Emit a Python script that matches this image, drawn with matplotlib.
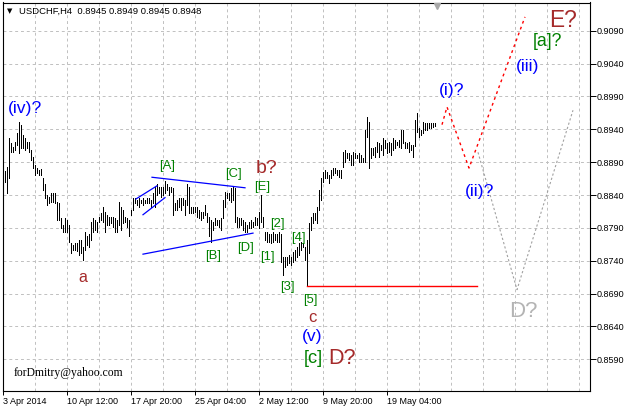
import matplotlib
matplotlib.use("Agg")
import matplotlib.pyplot as plt
import matplotlib.transforms as mtransforms
import numpy as np

# USDCHF H4 bars (high / low)
highs = [0.8877, 0.8883, 0.8927, 0.8919, 0.8913, 0.8921, 0.8935, 0.8951, 0.8947, 0.8931,
         0.8927, 0.8921, 0.8921, 0.8909, 0.8898, 0.8886, 0.8881, 0.8878, 0.8880, 0.8866,
         0.8856, 0.8840, 0.8837, 0.8843, 0.8843, 0.8843, 0.8830, 0.8828, 0.8805, 0.8795,
         0.8805, 0.8802, 0.8795, 0.8767, 0.8764, 0.8767, 0.8767, 0.8772,
         0.8772, 0.8761, 0.8783, 0.8777, 0.8780, 0.8799, 0.8805, 0.8802, 0.8799, 0.8807,
         0.8813, 0.8821, 0.8814, 0.8810, 0.8807, 0.8807, 0.8807, 0.8805, 0.8802, 0.8830,
         0.8822, 0.8817, 0.8807, 0.8805, 0.8802, 0.8817, 0.8836, 0.8836, 0.8833, 0.8836,
         0.8833, 0.8836, 0.8833, 0.8836, 0.8836, 0.8833, 0.8843, 0.8852,
         0.8856, 0.8852, 0.8852, 0.8852, 0.8862, 0.8856, 0.8852, 0.8852, 0.8851, 0.8828,
         0.8833, 0.8836, 0.8836, 0.8836, 0.8833, 0.8856, 0.8852, 0.8822, 0.8821, 0.8822,
         0.8821, 0.8817, 0.8814, 0.8814, 0.8825, 0.8813, 0.8807, 0.8802, 0.8799, 0.8805,
         0.8802, 0.8802, 0.8805, 0.8833, 0.8845, 0.8843,
         0.8843, 0.8851, 0.8854, 0.8851, 0.8807, 0.8805, 0.8805, 0.8802, 0.8799, 0.8795,
         0.8799, 0.8802, 0.8799, 0.8807, 0.8805, 0.8814, 0.8840, 0.8807, 0.8784, 0.8783,
         0.8780, 0.8780, 0.8783, 0.8780, 0.8780, 0.8783, 0.8780, 0.8746, 0.8745, 0.8745,
         0.8749, 0.8746, 0.8754, 0.8757, 0.8761, 0.8767, 0.8769, 0.8767, 0.8761,
         0.8772, 0.8798, 0.8807, 0.8813, 0.8813, 0.8822, 0.8848, 0.8866, 0.8875, 0.8878,
         0.8875, 0.8871, 0.8878, 0.8881, 0.8881, 0.8878, 0.8878, 0.8878, 0.8906, 0.8909,
         0.8904, 0.8904, 0.8901, 0.8906, 0.8904, 0.8901, 0.8904, 0.8901, 0.8897, 0.8939,
         0.8959, 0.8951, 0.8912, 0.8912, 0.8913, 0.8921, 0.8919, 0.8916, 0.8927, 0.8924,
         0.8919, 0.8921, 0.8919, 0.8927, 0.8924, 0.8921, 0.8924, 0.8939, 0.8939, 0.8921,
         0.8919, 0.8921, 0.8916, 0.8916, 0.8954, 0.8965, 0.8942, 0.8939, 0.8951, 0.8950,
         0.8950, 0.8950, 0.8950, 0.8950, 0.8949]
lows = [0.8860, 0.8843, 0.8866, 0.8906, 0.8906, 0.8909, 0.8916, 0.8904, 0.8912, 0.8912,
        0.8909, 0.8912, 0.8906, 0.8894, 0.8881, 0.8871, 0.8874, 0.8871, 0.8871, 0.8848,
        0.8836, 0.8825, 0.8828, 0.8830, 0.8830, 0.8828, 0.8802, 0.8802, 0.8790, 0.8783,
        0.8783, 0.8783, 0.8769, 0.8752, 0.8757, 0.8757, 0.8755, 0.8749,
        0.8752, 0.8741, 0.8757, 0.8764, 0.8761, 0.8772, 0.8784, 0.8787, 0.8784, 0.8799,
        0.8802, 0.8799, 0.8784, 0.8795, 0.8795, 0.8798, 0.8792, 0.8784, 0.8783, 0.8795,
        0.8787, 0.8798, 0.8799, 0.8792, 0.8777, 0.8810, 0.8817, 0.8828, 0.8825, 0.8822,
        0.8828, 0.8825, 0.8828, 0.8828, 0.8828, 0.8821, 0.8828, 0.8822,
        0.8840, 0.8843, 0.8837, 0.8840, 0.8843, 0.8848, 0.8840, 0.8845, 0.8810, 0.8817,
        0.8817, 0.8822, 0.8817, 0.8825, 0.8810, 0.8825, 0.8813, 0.8813, 0.8813, 0.8814,
        0.8807, 0.8805, 0.8802, 0.8805, 0.8810, 0.8799, 0.8777, 0.8769, 0.8787, 0.8795,
        0.8795, 0.8792, 0.8787, 0.8805, 0.8822, 0.8836,
        0.8833, 0.8830, 0.8833, 0.8799, 0.8792, 0.8792, 0.8795, 0.8787, 0.8783, 0.8784,
        0.8790, 0.8790, 0.8792, 0.8795, 0.8795, 0.8790, 0.8799, 0.8792, 0.8772, 0.8769,
        0.8769, 0.8767, 0.8769, 0.8772, 0.8769, 0.8769, 0.8738, 0.8719, 0.8731, 0.8734,
        0.8737, 0.8734, 0.8738, 0.8741, 0.8745, 0.8749, 0.8757, 0.8761, 0.8741,
        0.8703, 0.8752, 0.8787, 0.8798, 0.8802, 0.8798, 0.8817, 0.8833, 0.8860, 0.8866,
        0.8866, 0.8859, 0.8866, 0.8871, 0.8874, 0.8871, 0.8868, 0.8866, 0.8883, 0.8890,
        0.8897, 0.8894, 0.8886, 0.8886, 0.8897, 0.8897, 0.8890, 0.8890, 0.8890, 0.8890,
        0.8928, 0.8881, 0.8897, 0.8901, 0.8898, 0.8906, 0.8898, 0.8909, 0.8901, 0.8912,
        0.8904, 0.8906, 0.8901, 0.8909, 0.8912, 0.8916, 0.8913, 0.8912, 0.8919, 0.8912,
        0.8912, 0.8906, 0.8909, 0.8898, 0.8915, 0.8936, 0.8928, 0.8931, 0.8935, 0.8939,
        0.8939, 0.8942, 0.8942, 0.8944, 0.8945]

date_ticks = [0, 32, 64, 96, 128, 160, 192]
date_labels = ["3 Apr 2014", "10 Apr 12:00", "17 Apr 20:00", "25 Apr 04:00",
               "2 May 12:00", "9 May 20:00", "19 May 04:00"]
price_ticks = [0.8590, 0.8640, 0.8690, 0.8740, 0.8790, 0.8840, 0.8890, 0.8940,
               0.8990, 0.9040, 0.9090]

# trend lines (bar, price)
tri_upper_x, tri_upper_y = [74.5, 121], [0.8867, 0.8851]
tri_lower_x, tri_lower_y = [70, 125], [0.8750, 0.8782]
wedge_upper_x, wedge_upper_y = [66.5, 77], [0.8834, 0.8854]
wedge_lower_x, wedge_lower_y = [70, 81], [0.8810, 0.8836]
level_x, level_y = [152, 237], [0.8702, 0.8702]
red_path_x, red_path_y = [219.5, 222, 233, 261], [0.8947, 0.8974, 0.8881, 0.9111]
grey_path_x, grey_path_y = [237.5, 257, 285], [0.8905, 0.8696, 0.8969]

# wave marks
wave_text = ["(iv)?", "a", "[A]", "[B]", "[C]", "[D]", "[E]", "b?", "[1]", "[2]", "[3]",
             "[4]", "[5]", "c", "(v)", "[c]", "D?", "(i)?", "(ii)?", "(iii)", "[a]?", "E?", "D?"]
wave_x = [11, 40, 82, 105, 115, 121, 129.5, 132, 132, 137, 142, 147.5, 153.5, 154.5,
          154.5, 155, 169.5, 224.5, 238.5, 262.5, 272, 280, 260]
wave_y = [0.8971, 0.8715, 0.8884, 0.8747, 0.8872, 0.8759, 0.8852, 0.8881, 0.8746, 0.8796,
          0.8700, 0.8775, 0.8680, 0.8654, 0.8624, 0.8592, 0.8592, 0.8999, 0.8845, 0.9035,
          0.9073, 0.9106, 0.8662]

BLUE, BROWN, GREEN, SILVER = "#0000ff", "#a52a2a", "#008000", "#b4b4b4"
wave_color = [BLUE, BROWN, GREEN, GREEN, GREEN, GREEN, GREEN, BROWN, GREEN, GREEN, GREEN,
              GREEN, GREEN, BROWN, BLUE, GREEN, BROWN, BLUE, BLUE, BLUE, GREEN, BROWN, SILVER]
wave_size = [12.6, 11.5, 9.4, 9.4, 9.4, 9.4, 9.4, 14, 9.4, 9.4, 9.4,
             9.4, 9.4, 12, 12.6, 13.2, 15.5, 12.6, 12.6, 12.6, 12.7, 16.3, 16]

plt.rcParams['font.family'] = ['Liberation Sans', 'DejaVu Sans']

W, H = 626, 409
fig = plt.figure(figsize=(W / 100, H / 100), dpi=100)
ax = fig.add_axes([2.5 / W, 18 / H, 587.5 / W, 388.5 / H])

idx = np.arange(1, len(highs) + 1)
ax.vlines(idx, lows, highs, colors="black", lw=0.72, antialiased=False, zorder=3)

ax.plot(tri_upper_x, tri_upper_y, color="blue", lw=0.9, zorder=4)
ax.plot(tri_lower_x, tri_lower_y, color="blue", lw=0.9, zorder=4)
ax.plot(wedge_upper_x, wedge_upper_y, color="blue", lw=0.9, zorder=4)
ax.plot(wedge_lower_x, wedge_lower_y, color="blue", lw=0.9, zorder=4)
ax.plot(level_x, level_y, color="red", lw=1.0, zorder=4)
ax.plot(red_path_x, red_path_y, color="red", lw=1.0, ls=(0, (2, 2.5)), zorder=4)
ax.plot(grey_path_x, grey_path_y, color="#a0a0a0", lw=0.8, ls=(0, (2, 2)), zorder=4)

for t, x, y, c, s in zip(wave_text, wave_x, wave_y, wave_color, wave_size):
    ax.text(x, y, t, color=c, fontsize=s, ha="center", va="center", zorder=5)

ax.set_xlim(-0.25, 293.5)
ax.set_ylim(0.85418, 0.91329)

# grid
ax.set_xticks(np.arange(0, 293, 16), minor=True)
ax.set_xticks(date_ticks)
ax.set_xticklabels(date_labels, ha="left", fontsize=6.5)
ax.set_yticks(price_ticks)
ax.set_yticklabels(["%.4f" % p for p in price_ticks], fontsize=6.5)
ax.yaxis.tick_right()
ax.tick_params(axis="x", which="major", length=3, width=0.7, pad=1.5)
ax.tick_params(axis="x", which="minor", length=0)
ax.tick_params(axis="y", length=4, width=0.7, pad=1)
ax.grid(True, which="both", color="#c0c0c0", lw=0.7, ls=(0, (3, 3)))
for sp in ax.spines.values():
    sp.set_linewidth(0.8)

# header and footer text
fig.text(19 / W, 1 - 11 / H, "USDCHF,H4  0.8945 0.8949 0.8945 0.8948",
         fontsize=6.8, va="center", ha="left")
fig.text(10 / W, 1 - 11 / H, "\u25bc", fontsize=5, va="center", ha="center",
         family="DejaVu Sans")
fig.text(14 / W, 1 - 373 / H, "forDmitry@yahoo.com", fontsize=8.4, va="center",
         ha="left", family="Liberation Serif")

trans = mtransforms.blended_transform_factory(ax.transData, ax.transAxes)
ax.plot([217], [0.992], marker="v", color="#a8a8a8", ms=5, transform=trans,
        clip_on=False, zorder=6)

fig.savefig("out.png", dpi=100)
